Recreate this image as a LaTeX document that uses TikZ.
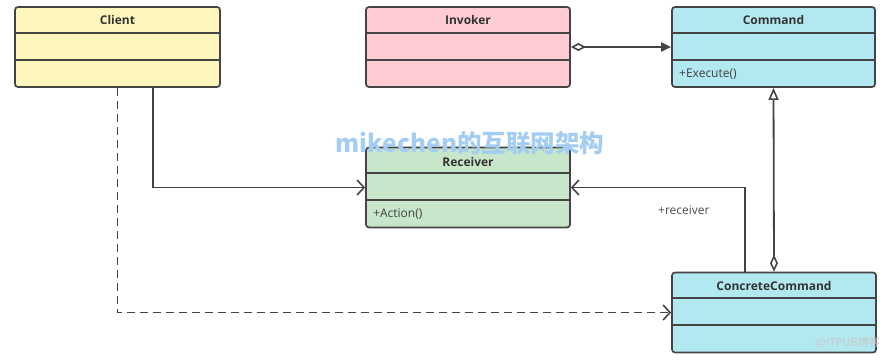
\documentclass[tikz,border=0pt]{standalone}
\usepackage{fontspec}
\setmainfont{Open Sans}
\newfontfamily\cjkfont{Noto Sans CJK SC}
\usetikzlibrary{arrows.meta,calc}
\definecolor{edge}{HTML}{444444}
\definecolor{clientfill}{HTML}{FFF6BE}
\definecolor{invokerfill}{HTML}{FFCCD4}
\definecolor{cmdfill}{HTML}{B2E9F1}
\definecolor{recvfill}{HTML}{C8E6C9}
\definecolor{wmblue}{HTML}{A3CDF2}
\definecolor{wmgray}{HTML}{C8C8C8}
\tikzset{
  classbox/.style={draw=edge, line width=1.7pt, rounded corners=3pt, minimum width=204pt, minimum height=80pt, inner sep=0pt},
  titletext/.style={font=\fontsize{12}{14}\selectfont\bfseries, text=black!80, inner sep=0pt},
  methodtext/.style={font=\fontsize{12}{14}\selectfont, text=black!75, inner sep=0pt, anchor=west},
  conn/.style={draw=edge, line width=1.8pt},
  barb/.style={-{Straight Barb[length=7pt,width=15pt,line width=1.6pt]}}
}
\newcommand{\dividers}[1]{%
  \draw[draw=edge, line width=1.7pt] ($(#1.north west)+(0,26.5)$) -- ($(#1.north east)+(0,26.5)$);
  \draw[draw=edge, line width=1.7pt] ($(#1.north west)+(0,53.5)$) -- ($(#1.north east)+(0,53.5)$);}
\begin{document}
\begin{tikzpicture}[x=1pt,y=-1pt]
\useasboundingbox (0,0) rectangle (890,360);
% classes
\node[classbox, fill=clientfill, minimum width=205pt] (client) at (117.5,47) {};
\node[classbox, fill=invokerfill] (invoker) at (468,47) {};
\node[classbox, fill=cmdfill, minimum width=203pt] (command) at (773.5,47) {};
\node[classbox, fill=recvfill] (receiver) at (468,187.5) {};
\node[classbox, fill=cmdfill] (cc) at (774,312.5) {};
\dividers{client}
\dividers{invoker}
\dividers{command}
\dividers{receiver}
\dividers{cc}
\node[titletext] (clientT) at (117.5,20) {Client};
\node[titletext] (invokerT) at (468,20) {Invoker};
\node[titletext] (commandT) at (773.5,20) {Command};
\node[titletext] (receiverT) at (468,162) {Receiver};
\node[titletext] (ccT) at (774,286) {ConcreteCommand};
\node[methodtext] (exec) at (679,74) {+Execute()};
\node[methodtext] (action) at (373,214.5) {+Action()};
% connectors
\coordinate (solidx) at (153,0);
\draw[conn, barb] (client.south -| solidx) |- (receiver.west);
\draw[conn, barb, dash pattern=on 8pt off 5pt] (client.south) |- (cc.west);
\draw[conn, {Diamond[open,length=15pt,width=8pt,line width=1.6pt]}-{Triangle[length=10pt,width=9pt]}] (invoker.east) -- (command.west);
\coordinate (ccx) at (745,0);
\draw[conn, barb] (cc.north -| ccx) |- (receiver.east);
\draw[conn, {Diamond[open,length=17pt,width=8pt,line width=1.6pt]}-{Triangle[open,length=12pt,width=10pt,line width=1.6pt]}] (cc.north) -- (command.south);
\node[methodtext, text=black!70] (rlabel) at (658,210) {+receiver};
% watermarks
\node[font=\cjkfont\fontsize{24.5}{26}\selectfont\bfseries, text=wmblue, inner sep=0pt] (wm) at (470,143) {mikechen的互联网架构};
\node[font=\cjkfont\fontsize{11}{13}\selectfont, text=wmgray, inner sep=0pt, anchor=east] (wm2) at (880,343) {@ITPUB博客};
\end{tikzpicture}
\end{document}
